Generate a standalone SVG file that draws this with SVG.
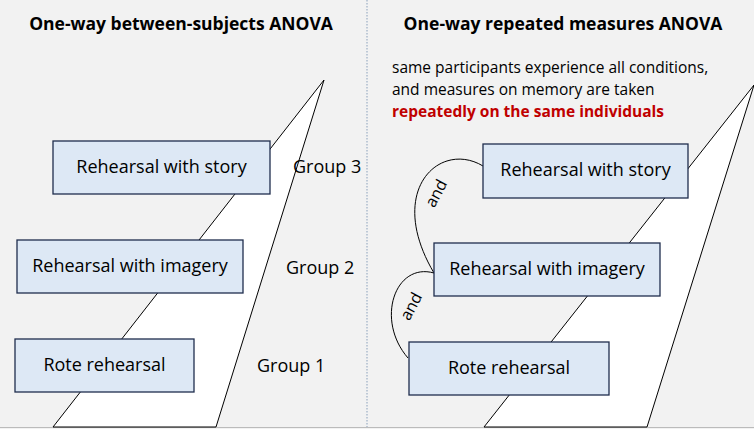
<svg xmlns="http://www.w3.org/2000/svg" width="754" height="429" viewBox="0 0 754 429">
<style>
text{font-family:"Open Sans","Liberation Sans",sans-serif;fill:#000}
.t{font-weight:bold;font-size:17.5px;text-anchor:middle}
.box rect{fill:#dde8f5;stroke:#1f2d4d;stroke-width:1.3}
.box text{font-size:18px;text-anchor:middle}
.g{font-size:18px}
.tri{fill:#fff;stroke:#000;stroke-width:1}
.p{font-size:15.5px}
</style>
<rect width="754" height="429" fill="#f2f2f2"/>
<line x1="367" y1="0" x2="367" y2="427" stroke="#8aa0bb" stroke-dasharray="1.5,1.5"/>
<line x1="0" y1="427.5" x2="754" y2="427.5" stroke="#bbb"/>
<text class="t" x="181" y="30">One-way between-subjects ANOVA</text>
<text class="t" x="563" y="30">One-way repeated measures ANOVA</text>
<polygon class="tri" points="324,80 53,427 216,427"/>
<polygon class="tri" points="754,85 484,427 647,427"/>
<text class="p" x="392" y="73">same participants experience all conditions,</text>
<text class="p" x="392" y="95">and measures on memory are taken</text>
<text class="p" x="392" y="117" style="fill:#c00000;font-weight:bold">repeatedly on the same individuals</text>
<g id="connectors" fill="none" stroke="#000" stroke-width="1">
<path d="M483,166 C440,140 385,190 434,273"/>
<path d="M434,273 C395,262 375,320 408,358"/>
</g>
<text class="p" style="font-size:16px" transform="translate(441,196) rotate(-62)" text-anchor="middle">and</text>
<text class="p" style="font-size:16px" transform="translate(416,309) rotate(-62)" text-anchor="middle">and</text>
<g id="l-story" class="box"><rect x="53" y="141" width="217" height="53"/><text x="161.5" y="173">Rehearsal with story</text></g>
<g id="l-imagery" class="box"><rect x="17" y="240" width="226" height="53"/><text x="130" y="272">Rehearsal with imagery</text></g>
<g id="l-rote" class="box"><rect x="15" y="339" width="179" height="53"/><text x="104.5" y="371">Rote rehearsal</text></g>
<text class="g" x="293" y="173">Group 3</text>
<text class="g" x="286" y="274">Group 2</text>
<text class="g" x="257" y="372">Group 1</text>
<g id="r-story" class="box"><rect x="483" y="144" width="205" height="54"/><text x="585.5" y="176">Rehearsal with story</text></g>
<g id="r-imagery" class="box"><rect x="434" y="243" width="226" height="53"/><text x="547" y="275">Rehearsal with imagery</text></g>
<g id="r-rote" class="box"><rect x="409" y="342" width="200" height="53"/><text x="509" y="374">Rote rehearsal</text></g>
</svg>
